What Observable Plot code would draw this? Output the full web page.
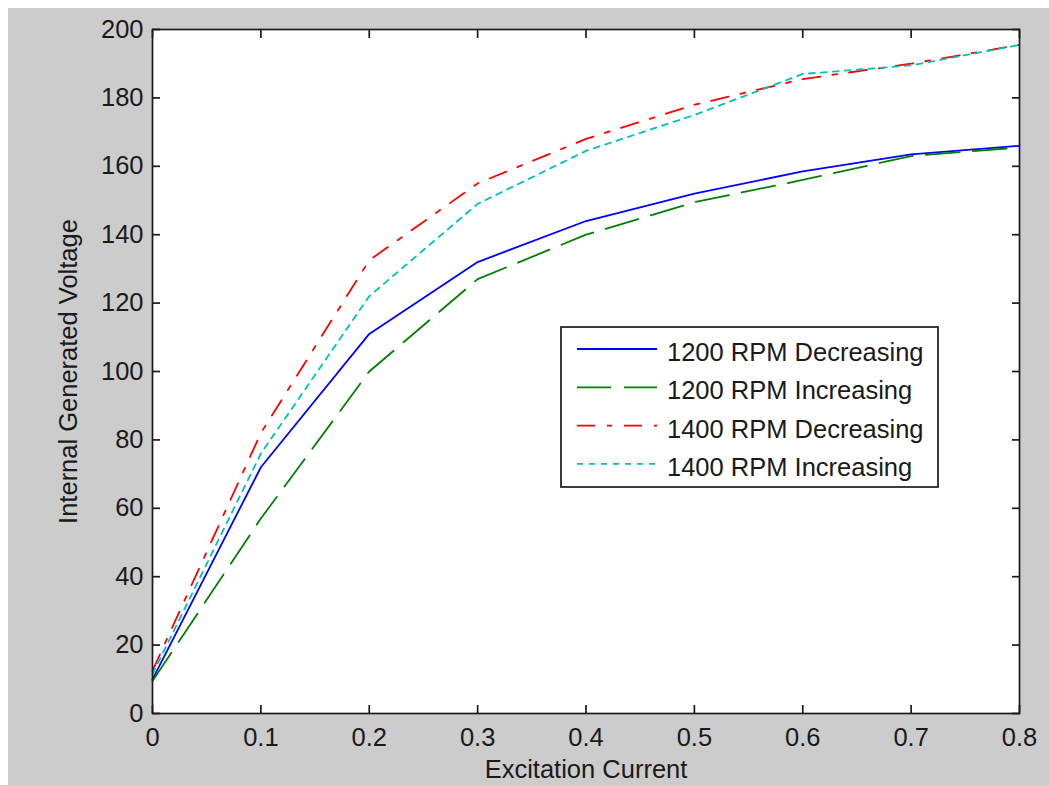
<!DOCTYPE html>
<html><head><meta charset="utf-8">
<script src="https://cdn.jsdelivr.net/npm/d3@7"></script>
<script src="https://cdn.jsdelivr.net/npm/@observablehq/plot@0.6"></script>
<style>
html,body{margin:0;padding:0;background:#fff;}
#fig{position:absolute;left:8px;top:8px;width:1041px;height:777px;background:#cccccc;overflow:hidden;font-family:"Liberation Sans",Arial,sans-serif;}
#fig svg{position:absolute;left:0;top:0;}
</style></head><body><div id="fig"></div>
<script>
// Data
const current = [0, 0.1, 0.2, 0.3, 0.4, 0.5, 0.6, 0.7, 0.8];
const rpm1200Decreasing = [10, 72, 111, 132, 144, 152, 158.5, 163.5, 166];
const rpm1200Increasing = [9.5, 57, 100, 127, 140, 149.5, 156, 163, 165.5];
const rpm1400Decreasing = [12.5, 82, 132.5, 155, 168, 178, 185.5, 190, 195.5];
const rpm1400Increasing = [11.5, 76, 122, 149, 164.5, 175, 187, 189.5, 195.5];

const seriesNames = ["1200 RPM Decreasing", "1200 RPM Increasing", "1400 RPM Decreasing", "1400 RPM Increasing"];
const seriesValues = [rpm1200Decreasing, rpm1200Increasing, rpm1400Decreasing, rpm1400Increasing];
const seriesColors = ["#0000ff", "#008000", "#ff0000", "#00bfbf"];
const seriesDash = [undefined, "34,13", "18,12,5,12", "6,6"];

const xTicks = [0, 0.1, 0.2, 0.3, 0.4, 0.5, 0.6, 0.7, 0.8];
const yTicks = [0, 20, 40, 60, 80, 100, 120, 140, 160, 180, 200];
const xLabel = "Excitation Current";
const yLabel = "Internal Generated Voltage";

const rows = [];
seriesValues.forEach((vals, i) => vals.forEach((v, j) => rows.push({x: current[j], y: v, s: seriesNames[i]})));

const font = "'Liberation Sans', Arial, sans-serif";
const axisColor = "#1a1a1a";

const chart = Plot.plot({
  width: 1041, height: 777,
  marginLeft: 144, marginRight: 30, marginTop: 21, marginBottom: 72,
  style: {background: "transparent", fontFamily: font, fontSize: "25.5px", color: axisColor, overflow: "visible"},
  x: {domain: [0, 0.8]},
  y: {domain: [0, 200]},
  marks: [
    Plot.frame({fill: "white", stroke: null}),
    ...seriesNames.map((name, i) => Plot.line(rows.filter(r => r.s === name), {
      x: "x", y: "y", stroke: seriesColors[i], strokeWidth: 1.8, strokeDasharray: seriesDash[i]
    })),
    Plot.axisX({ticks: xTicks, tickSize: -8, tickPadding: 22, tickFormat: d => String(d), strokeWidth: 1.7,
      label: xLabel, labelAnchor: "center", labelArrow: "none", labelOffset: 64}),
    Plot.axisX({anchor: "top", ticks: xTicks, tickSize: -8, tickFormat: () => "", strokeWidth: 1.7, label: null}),
    Plot.axisY({ticks: yTicks, tickSize: -8, tickPadding: 17, strokeWidth: 1.7,
      label: yLabel, labelAnchor: "center", labelArrow: "none", labelOffset: 94}),
    Plot.axisY({anchor: "right", ticks: yTicks, tickSize: -8, tickFormat: () => "", strokeWidth: 1.7, label: null}),
    Plot.frame({stroke: axisColor, strokeWidth: 1.7})
  ]
});
const fig = document.getElementById("fig");
fig.appendChild(chart);

// Legend
const lw = 377, lh = 160;
const leg = d3.select(fig).append("svg")
  .attr("width", lw + 4).attr("height", lh + 4)
  .style("left", (553 - 2) + "px").style("top", (319 - 2) + "px");
leg.append("rect").attr("x", 2).attr("y", 2).attr("width", lw).attr("height", lh)
  .attr("fill", "white").attr("stroke", axisColor).attr("stroke-width", 1.7);
seriesNames.forEach((name, i) => {
  const cy = 2 + 22 + i * 38.3;
  leg.append("line").attr("x1", 2 + 16).attr("x2", 2 + 96).attr("y1", cy).attr("y2", cy)
    .attr("stroke", seriesColors[i]).attr("stroke-width", 1.8)
    .attr("stroke-dasharray", seriesDash[i] || null);
  leg.append("text").attr("x", 2 + 106).attr("y", cy + 12)
    .attr("font-family", font).attr("font-size", 25.5).attr("fill", axisColor).text(name);
});
</script>
</body></html>
